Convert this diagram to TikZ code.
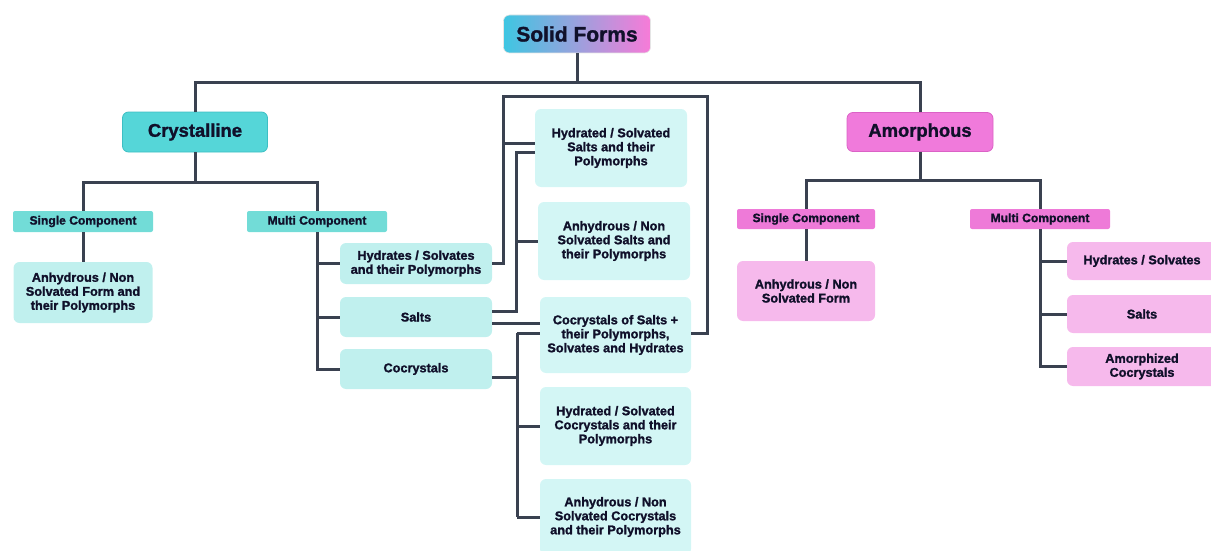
\documentclass[tikz,border=0pt]{standalone}
\usepackage{fontspec}
\setmainfont{Liberation Sans}[BoldFeatures={FakeBold=1.4}]
\definecolor{linec}{HTML}{3A4150}
\definecolor{txt}{HTML}{10102A}
\definecolor{cyanA}{HTML}{55D6D8}
\definecolor{cyanAb}{HTML}{3DBFC3}
\definecolor{cyanB}{HTML}{72DCD7}
\definecolor{cyanC}{HTML}{C0F0EE}
\definecolor{cyanD}{HTML}{D3F6F5}
\definecolor{pinkA}{HTML}{F07ADB}
\definecolor{pinkAb}{HTML}{DB62C6}
\definecolor{pinkB}{HTML}{EE7AD8}
\definecolor{pinkC}{HTML}{F6B9EC}
\definecolor{gradL}{HTML}{3EC6E2}
\definecolor{gradR}{HTML}{F77BD8}
\tikzset{
  conn/.style={draw=linec, line width=3pt},
  box/.style={rounded corners=6pt, align=center, text=txt, inner sep=0pt,
    font=\bfseries\fontsize{12.7}{14}\selectfont},
  bigbox/.style={box, font=\bfseries\fontsize{18.4}{20}\selectfont},
  lab/.style={box, rounded corners=2pt, font=\bfseries\fontsize{12.1}{13}\selectfont},
}
\begin{document}
\begin{tikzpicture}[x=1pt,y=-1pt]
\useasboundingbox (0,0) rectangle (1211,551);
% top
\node[box, font=\bfseries\fontsize{21}{22}\selectfont, left color=gradL, right color=gradR,
  draw=white!80!gray, line width=0.6pt, minimum width=147pt, minimum height=38pt] (solid) at (577,34) {Solid Forms};
% crystalline branch
\node[bigbox, fill=cyanA, draw=cyanAb, line width=0.8pt, minimum width=145pt, minimum height=40pt] (cry) at (195,132) {Crystalline};
\node[lab, fill=cyanB, minimum width=140pt, minimum height=21pt] (csc) at (83,221.5) {Single Component};
\node[lab, fill=cyanB, minimum width=140pt, minimum height=21pt] (cmc) at (317,221.5) {Multi Component};
\node[box, fill=cyanC, minimum width=139pt, minimum height=61pt] (canh) at (83,292.5) {Anhydrous / Non\\Solvated Form and\\their Polymorphs};
\node[box, fill=cyanC, minimum width=152pt, minimum height=41pt] (chyd) at (416,263.5) {Hydrates / Solvates\\and their Polymorphs};
\node[box, fill=cyanC, minimum width=152pt, minimum height=40pt] (csalt) at (416,317) {Salts};
\node[box, fill=cyanC, minimum width=152pt, minimum height=40pt] (ccoc) at (416,369) {Cocrystals};
\node[box, fill=cyanD, minimum width=152pt, minimum height=78pt] (m1) at (611,148) {Hydrated / Solvated\\Salts and their\\Polymorphs};
\node[box, fill=cyanD, minimum width=152pt, minimum height=78pt] (m2) at (614,241) {Anhydrous / Non\\Solvated Salts and\\their Polymorphs};
\node[box, fill=cyanD, minimum width=151pt, minimum height=76pt] (m3) at (615.5,335) {Cocrystals of Salts +\\their Polymorphs,\\Solvates and Hydrates};
\node[box, fill=cyanD, minimum width=151pt, minimum height=78pt] (m4) at (615.5,426) {Hydrated / Solvated\\Cocrystals and their\\Polymorphs};
\node[box, fill=cyanD, minimum width=151pt, minimum height=76pt] (m5) at (615.5,517) {Anhydrous / Non\\Solvated Cocrystals\\and their Polymorphs};
% amorphous branch
\node[bigbox, fill=pinkA, draw=pinkAb, line width=0.8pt, minimum width=146pt, minimum height=39pt] (amo) at (920,132) {Amorphous};
\node[lab, fill=pinkB, minimum width=138pt, minimum height=20pt] (asc) at (806,219) {Single Component};
\node[lab, fill=pinkB, minimum width=140pt, minimum height=20pt] (amc) at (1040,219) {Multi Component};
\node[box, fill=pinkC, minimum width=138pt, minimum height=60pt] (aanh) at (806,291) {Anhydrous / Non\\Solvated Form};
\node[box, fill=pinkC, minimum width=150pt, minimum height=38pt] (ahyd) at (1142,261) {Hydrates / Solvates};
\node[box, fill=pinkC, minimum width=150pt, minimum height=38pt] (asalt) at (1142,314) {Salts};
\node[box, fill=pinkC, minimum width=150pt, minimum height=39pt] (acoc) at (1142,366.5) {Amorphized\\Cocrystals};
% connectors: top
\coordinate (top) at (577,83);
\draw[conn] (solid.south) -- (top);
\draw[conn] (top) -| (cry.north);
\draw[conn] (top) -| (amo.north);
% crystalline
\coordinate (cj) at (195,182);
\draw[conn] (cry.south) -- (cj);
\draw[conn] (cj) -| (csc.north);
\draw[conn] (cj) -| (cmc.north);
\draw[conn] (csc.south) -- (canh.north);
\draw[conn] (cmc.south) |- (chyd.west);
\draw[conn] (cmc.south) |- (csalt.west);
\draw[conn] (cmc.south) |- (ccoc.west);
% hydrates bracket
\coordinate (bl) at (503,97);
\coordinate (br) at (707,97);
\draw[conn] (chyd.east) -| (bl) -- (br) |- ([yshift=2pt]m3.east);
\draw[conn] ([yshift=5pt]m1.west) -- ([yshift=5pt]m1.west -| bl);
% salts
\coordinate (sv) at (516,152);
\draw[conn] ([yshift=6pt]csalt.east) -| (sv) -- ([yshift=-4pt]m1.west);
\draw[conn] (m2.west) -- (m2.west -| sv);
\draw[conn] ([yshift=-6pt]csalt.east) -- ([yshift=12pt]m3.west);
% cocrystals
\coordinate (ct) at (517,333);
\coordinate (cb) at (517,517);
\draw[conn] (ct) -- (cb);
\draw[conn] ([yshift=2pt]m3.west) -- (ct);
\draw[conn] (m4.west) -- (m4.west -| ct);
\draw[conn] (cb) -- (m5.west);
\draw[conn] ([yshift=-8pt]ccoc.east) -- ([yshift=-8pt]ccoc.east -| ct);
% amorphous
\coordinate (aj) at (920,180);
\draw[conn] (amo.south) -- (aj);
\draw[conn] (aj) -| (asc.north);
\draw[conn] (aj) -| (amc.north);
\draw[conn] (asc.south) -- (aanh.north);
\draw[conn] (amc.south) |- (ahyd.west);
\draw[conn] (amc.south) |- (asalt.west);
\draw[conn] (amc.south) |- (acoc.west);
\end{tikzpicture}
\end{document}
